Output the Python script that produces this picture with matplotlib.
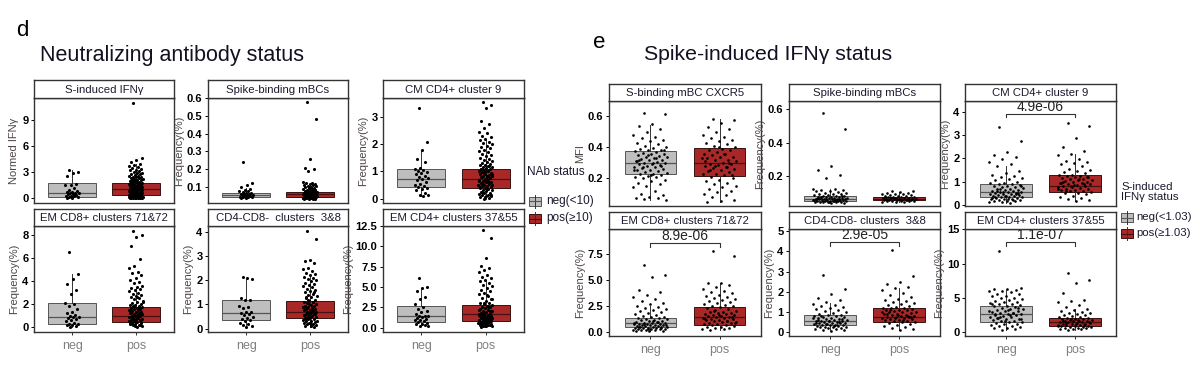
import numpy as np
import matplotlib
matplotlib.use("Agg")
import matplotlib.pyplot as plt
from matplotlib.patches import Rectangle
from matplotlib.lines import Line2D

plt.rcParams['font.family'] = ['Liberation Sans', 'DejaVu Sans']

# ---------------- data ----------------
groups = ["neg", "pos"]

# Panel d : Neutralizing antibody status
d_titles = ["S-induced IFNγ", "Spike-binding mBCs", "CM CD4+ cluster 9",
            "EM CD8+ clusters 71&72", "CD4-CD8-  clusters  3&8", "EM CD4+ clusters 37&55"]
d_ylabels = ["Normed IFNγ", "Frequency(%)", "Frequency(%)",
             "Frequency(%)", "Frequency(%)", "Frequency(%)"]
d_yticks = [[0, 3, 6, 9], [0.1, 0.2, 0.3, 0.4, 0.5, 0.6], [0, 1, 2, 3],
            [0, 2, 4, 6, 8], [0, 1, 2, 3, 4], [0.0, 2.5, 5.0, 7.5, 10.0, 12.5]]
d_ylims = [(-0.55, 11.55), (0.01, 0.6), (-0.16, 3.7),
           (-0.42, 8.77), (-0.14, 4.24), (-0.53, 12.52)]
# box stats: (whisker low, q1, median, q3, whisker high)
d_box_neg = [(0.02, 0.15, 0.6, 1.7, 3.2), (0.038, 0.042, 0.055, 0.0646, 0.095),
             (0.1, 0.43, 0.73, 1.08, 1.79), (0.05, 0.29, 0.92, 2.08, 4.6),
             (0.05, 0.37, 0.65, 1.19, 2.1), (0.15, 0.74, 1.44, 2.71, 4.85)]
d_box_pos = [(0.0, 0.35, 1.04, 1.8, 3.9), (0.032, 0.045, 0.058, 0.07, 0.105),
             (0.0, 0.39, 0.72, 1.1, 2.15), (0.05, 0.49, 0.98, 1.73, 3.5),
             (0.08, 0.43, 0.7, 1.15, 2.2), (0.1, 0.86, 1.69, 2.8, 5.7)]

ifng_neg = [3.2, 3.05, 2.95, 2.6, 1.65, 1.55, 1.5, 1.2, 0.9, 0.85, 0.75, 0.7, 0.65, 0.6, 0.55,
            0.5, 0.45, 0.4, 0.3, 0.25, 0.2, 0.15, 0.1, 0.05, 0.02]
ifng_pos = [11.0, 4.6, 4.45, 4.2, 4.0, 3.85, 3.7, 3.6, 3.5, 3.4, 3.3, 3.2, 3.1, 3.0, 2.95, 2.9,
            2.8, 2.75, 2.7, 2.6, 2.55, 2.5, 2.45, 2.4, 2.35, 2.3, 2.25, 2.2, 2.15, 2.1, 2.05, 2.0,
            1.95, 1.9, 1.85, 1.8, 1.78, 1.75, 1.7, 1.65, 1.6, 1.55, 1.5, 1.48, 1.45, 1.4, 1.35,
            1.3, 1.28, 1.25, 1.2, 1.15, 1.1, 1.08, 1.05, 1.02, 1.0, 0.98, 0.95, 0.9, 0.88, 0.85,
            0.8, 0.78, 0.75, 0.7, 0.68, 0.65, 0.6, 0.58, 0.55, 0.5, 0.48, 0.45, 0.4, 0.38, 0.35,
            0.3, 0.28, 0.25, 0.2, 0.18, 0.15, 0.12, 0.1, 0.08, 0.05, 0.03, 0.02, 0.0, 0.0, 0.01,
            0.04, 0.06, 0.1, 0.15, 0.2, 0.25, 0.3, 0.35]
mbc_d_neg = [0.24, 0.12, 0.11, 0.10, 0.09, 0.085, 0.08, 0.075, 0.07, 0.068, 0.065, 0.062, 0.06,
             0.058, 0.056, 0.055, 0.053, 0.05, 0.048, 0.046, 0.045, 0.043, 0.042, 0.04, 0.038]
mbc_d_pos = [0.58, 0.48, 0.26, 0.205, 0.2, 0.19, 0.13, 0.125, 0.12, 0.118, 0.115, 0.112, 0.11,
             0.108, 0.105, 0.1, 0.098, 0.095, 0.092, 0.09, 0.088, 0.085, 0.083, 0.08, 0.078,
             0.076, 0.075, 0.073, 0.072, 0.07, 0.069, 0.068, 0.067, 0.066, 0.065, 0.064, 0.063,
             0.062, 0.061, 0.06, 0.059, 0.058, 0.057, 0.056, 0.055, 0.054, 0.053, 0.052, 0.051,
             0.05, 0.049, 0.048, 0.047, 0.046, 0.045, 0.044, 0.043, 0.042, 0.041, 0.04, 0.039,
             0.038, 0.037, 0.036, 0.035, 0.034, 0.033, 0.032, 0.07, 0.065, 0.06, 0.055, 0.05,
             0.045, 0.04, 0.075, 0.08, 0.085, 0.09, 0.062, 0.058, 0.052, 0.048]
cm9_d_neg = [3.35, 2.1, 1.78, 1.45, 1.35, 1.12, 1.08, 1.05, 1.02, 0.98, 0.95, 0.9, 0.85, 0.8,
             0.75, 0.73, 0.7, 0.62, 0.55, 0.5, 0.45, 0.42, 0.38, 0.35, 0.3, 0.22, 0.15, 0.12, 0.1]
cm9_d_pos = [3.55, 3.45, 3.35, 2.85, 2.75, 2.6, 2.45, 2.4, 2.3, 2.25, 2.2, 2.15, 2.1, 2.05, 2.0,
             1.95, 1.9, 1.85, 1.8, 1.75, 1.7, 1.65, 1.6, 1.55, 1.5, 1.45, 1.42, 1.4, 1.35, 1.3,
             1.28, 1.25, 1.22, 1.2, 1.18, 1.15, 1.12, 1.1, 1.08, 1.05, 1.02, 1.0, 0.98, 0.95,
             0.92, 0.9, 0.88, 0.85, 0.82, 0.8, 0.78, 0.75, 0.72, 0.7, 0.68, 0.65, 0.62, 0.6, 0.58,
             0.55, 0.52, 0.5, 0.48, 0.45, 0.42, 0.4, 0.38, 0.35, 0.32, 0.3, 0.28, 0.25, 0.22, 0.2,
             0.18, 0.15, 0.12, 0.1, 0.08, 0.05, 0.03, 0.0, 0.9, 0.85, 0.8, 0.75, 0.7, 0.65, 0.6,
             0.55, 0.5, 1.0, 1.1, 1.2, 0.95, 0.45, 0.35, 0.25, 0.15, 0.05]
cd8_d_neg = [6.5, 4.6, 4.2, 3.7, 3.2, 2.9, 2.1, 2.05, 1.8, 1.55, 1.3, 1.2, 1.05, 0.95, 0.9, 0.85,
             0.8, 0.7, 0.6, 0.5, 0.4, 0.3, 0.25, 0.2, 0.15, 0.1, 0.05]
cd8_d_pos = [8.3, 8.0, 7.8, 7.0, 5.95, 5.3, 5.1, 4.8, 4.7, 4.5, 4.3, 4.1, 3.9, 3.8, 3.6, 3.5,
             3.4, 3.3, 3.2, 3.1, 3.0, 2.9, 2.8, 2.7, 2.6, 2.5, 2.4, 2.3, 2.2, 2.1, 2.0, 1.95, 1.9,
             1.85, 1.8, 1.75, 1.7, 1.65, 1.6, 1.55, 1.5, 1.45, 1.4, 1.35, 1.3, 1.25, 1.2, 1.15,
             1.1, 1.05, 1.0, 0.98, 0.95, 0.9, 0.85, 0.8, 0.75, 0.7, 0.65, 0.6, 0.55, 0.5, 0.45,
             0.4, 0.35, 0.3, 0.25, 0.2, 0.15, 0.1, 0.05, 1.2, 1.1, 1.0, 0.9, 0.8, 0.7, 0.6, 0.5,
             1.4, 1.6, 1.8, 2.2, 2.6, 0.3, 0.2, 0.1, 0.4]
dn_d_neg = [2.15, 2.05, 2.1, 1.25, 1.2, 1.18, 0.95, 0.9, 0.85, 0.7, 0.68, 0.65, 0.62, 0.58, 0.5,
            0.45, 0.4, 0.35, 0.3, 0.25, 0.2, 0.15, 0.1, 0.05]
dn_d_pos = [4.05, 3.72, 2.85, 2.8, 2.7, 2.5, 2.45, 2.4, 2.3, 2.25, 2.2, 2.15, 2.1, 2.05, 2.0,
            1.95, 1.9, 1.85, 1.8, 1.75, 1.7, 1.65, 1.6, 1.55, 1.5, 1.45, 1.4, 1.35, 1.3, 1.25,
            1.2, 1.15, 1.12, 1.1, 1.05, 1.0, 0.98, 0.95, 0.92, 0.9, 0.88, 0.85, 0.82, 0.8, 0.78,
            0.75, 0.72, 0.7, 0.68, 0.65, 0.62, 0.6, 0.58, 0.55, 0.52, 0.5, 0.48, 0.45, 0.42, 0.4,
            0.38, 0.35, 0.32, 0.3, 0.28, 0.25, 0.22, 0.2, 0.18, 0.15, 0.12, 0.1, 0.08, 1.0, 0.9,
            0.8, 0.7, 0.6, 0.5, 0.4, 1.1, 1.2, 0.3, 0.2, 1.3, 1.5, 0.65, 0.55, 0.75, 0.85]
cd4_d_neg = [6.1, 5.0, 4.85, 4.5, 3.8, 3.5, 2.9, 2.6, 2.3, 2.1, 1.9, 1.7, 1.5, 1.45, 1.4, 1.3,
             1.2, 1.1, 1.0, 0.9, 0.8, 0.7, 0.6, 0.5, 0.4, 0.3, 0.2, 0.15]
cd4_d_pos = [12.0, 11.0, 8.6, 7.6, 7.3, 7.1, 6.8, 6.5, 6.3, 6.1, 5.9, 5.7, 5.5, 5.3, 5.1, 4.9,
             4.7, 4.5, 4.3, 4.1, 3.9, 3.7, 3.5, 3.3, 3.1, 3.0, 2.9, 2.8, 2.7, 2.6, 2.5, 2.4, 2.3,
             2.2, 2.1, 2.0, 1.9, 1.8, 1.75, 1.7, 1.65, 1.6, 1.55, 1.5, 1.45, 1.4, 1.35, 1.3, 1.25,
             1.2, 1.15, 1.1, 1.05, 1.0, 0.95, 0.9, 0.85, 0.8, 0.75, 0.7, 0.65, 0.6, 0.55, 0.5,
             0.45, 0.4, 0.35, 0.3, 0.25, 0.2, 0.15, 0.1, 2.0, 1.8, 1.6, 1.4, 1.2, 1.0, 0.8, 0.6,
             2.5, 3.0, 3.5, 4.0, 0.4, 0.3, 0.2, 2.2, 2.6, 1.3]

# Panel e : Spike-induced IFNγ status
e_titles = ["S-binding mBC CXCR5", "Spike-binding mBCs", "CM CD4+ cluster 9",
            "EM CD8+ clusters 71&72", "CD4-CD8- clusters  3&8", "EM CD4+ clusters 37&55"]
e_ylabels = ["MFI", "Frequency(%)", "Frequency(%)",
             "Frequency(%)", "Frequency(%)", "Frequency(%)"]
e_yticks = [[0.2, 0.4, 0.6], [0.2, 0.4, 0.6], [0, 1, 2, 3, 4],
            [0.0, 2.5, 5.0, 7.5], [0, 1, 2, 3, 4, 5], [0, 5, 10, 15]]
e_ylims = [(0.02, 0.70), (0.02, 0.65), (-0.05, 4.46),
           (-0.42, 9.95), (-0.18, 5.1), (-0.63, 15.06)]
e_box_neg = [(0.06, 0.228, 0.301, 0.379, 0.546), (0.04, 0.052, 0.065, 0.08, 0.12),
             (0.1, 0.33, 0.54, 0.90, 1.67), (0.05, 0.43, 0.81, 1.30, 2.49),
             (0.05, 0.36, 0.56, 0.85, 1.43), (0.3, 1.47, 2.55, 3.81, 6.1)]
e_box_pos = [(0.045, 0.217, 0.297, 0.395, 0.585), (0.042, 0.056, 0.065, 0.076, 0.105),
             (0.18, 0.57, 0.83, 1.29, 2.2), (0.2, 0.65, 1.40, 2.42, 4.75),
             (0.1, 0.52, 0.77, 1.21, 2.17), (0.3, 0.84, 1.38, 1.96, 3.4)]
e_pvalues = [None, None, "4.9e-06", "8.9e-06", "2.9e-05", "1.1e-07"]
e_pvalue_y = [None, None, 3.89, 8.56, 4.44, 13.1]

cxcr5_e_neg = [0.62, 0.615, 0.55, 0.54, 0.52, 0.5, 0.48, 0.47, 0.46, 0.45, 0.44, 0.43, 0.42,
               0.41, 0.4, 0.395, 0.39, 0.385, 0.38, 0.375, 0.37, 0.365, 0.36, 0.355, 0.35, 0.345,
               0.34, 0.335, 0.33, 0.325, 0.32, 0.315, 0.31, 0.305, 0.3, 0.298, 0.295, 0.29, 0.285,
               0.28, 0.275, 0.27, 0.265, 0.26, 0.255, 0.25, 0.245, 0.24, 0.235, 0.23, 0.225, 0.22,
               0.215, 0.21, 0.205, 0.2, 0.19, 0.18, 0.17, 0.16, 0.15, 0.14, 0.12, 0.1, 0.09, 0.08,
               0.075, 0.07, 0.065, 0.06, 0.3, 0.32, 0.28, 0.35, 0.25, 0.33, 0.27, 0.38, 0.22, 0.31]
cxcr5_e_pos = [0.585, 0.58, 0.56, 0.53, 0.52, 0.5, 0.48, 0.47, 0.46, 0.45, 0.44, 0.43, 0.42,
               0.41, 0.4, 0.39, 0.385, 0.38, 0.37, 0.36, 0.355, 0.35, 0.34, 0.335, 0.33, 0.32,
               0.315, 0.31, 0.3, 0.295, 0.29, 0.285, 0.28, 0.27, 0.265, 0.26, 0.25, 0.245, 0.24,
               0.23, 0.225, 0.22, 0.21, 0.2, 0.19, 0.18, 0.17, 0.16, 0.15, 0.14, 0.13, 0.12, 0.11,
               0.1, 0.09, 0.08, 0.06, 0.05, 0.045, 0.3, 0.28, 0.33, 0.36, 0.25, 0.22, 0.4, 0.31, 0.27]
mbc_e_neg = [0.58, 0.48, 0.26, 0.235, 0.205, 0.19, 0.125, 0.12, 0.118, 0.115, 0.11, 0.108, 0.105,
             0.1, 0.098, 0.095, 0.092, 0.09, 0.088, 0.085, 0.082, 0.08, 0.078, 0.076, 0.075,
             0.073, 0.072, 0.07, 0.069, 0.068, 0.067, 0.066, 0.065, 0.064, 0.063, 0.062, 0.061,
             0.06, 0.059, 0.058, 0.057, 0.056, 0.055, 0.054, 0.053, 0.052, 0.051, 0.05, 0.049,
             0.048, 0.047, 0.046, 0.045, 0.044, 0.043, 0.042, 0.041, 0.04, 0.07, 0.065, 0.06,
             0.055, 0.05, 0.075, 0.08, 0.045, 0.062, 0.058]
mbc_e_pos = [0.112, 0.108, 0.105, 0.1, 0.098, 0.095, 0.092, 0.09, 0.088, 0.085, 0.082, 0.08,
             0.078, 0.076, 0.075, 0.073, 0.072, 0.07, 0.069, 0.068, 0.067, 0.066, 0.065, 0.064,
             0.063, 0.062, 0.061, 0.06, 0.059, 0.058, 0.057, 0.056, 0.055, 0.054, 0.053, 0.052,
             0.051, 0.05, 0.048, 0.046, 0.044, 0.042, 0.07, 0.065, 0.06, 0.075, 0.055, 0.068]
cm9_e_neg = [3.35, 2.75, 2.28, 2.15, 2.05, 1.95, 1.82, 1.75, 1.65, 1.45, 1.38, 1.3, 1.25, 1.2,
             1.15, 1.1, 1.05, 1.0, 0.95, 0.92, 0.9, 0.88, 0.85, 0.82, 0.8, 0.78, 0.75, 0.72, 0.7,
             0.68, 0.65, 0.62, 0.6, 0.58, 0.56, 0.55, 0.54, 0.52, 0.5, 0.48, 0.46, 0.45, 0.44,
             0.42, 0.4, 0.38, 0.36, 0.35, 0.34, 0.32, 0.3, 0.28, 0.26, 0.25, 0.24, 0.22, 0.2,
             0.18, 0.16, 0.15, 0.14, 0.12, 0.1, 0.6, 0.5, 0.4, 0.3, 0.2, 0.7, 0.8, 0.25, 0.35,
             0.45, 0.55]
cm9_e_pos = [3.52, 3.38, 2.85, 2.48, 2.3, 2.2, 2.15, 1.95, 1.9, 1.85, 1.8, 1.75, 1.65, 1.55, 1.5,
             1.45, 1.4, 1.35, 1.3, 1.28, 1.25, 1.22, 1.2, 1.18, 1.15, 1.12, 1.1, 1.08, 1.05, 1.02,
             1.0, 0.98, 0.95, 0.92, 0.9, 0.88, 0.85, 0.83, 0.8, 0.78, 0.75, 0.72, 0.7, 0.68, 0.65,
             0.62, 0.6, 0.58, 0.55, 0.52, 0.5, 0.45, 0.4, 0.35, 0.3, 0.25, 0.2, 0.18, 1.0, 0.9,
             0.8, 0.7, 1.1, 0.6, 1.2, 0.85, 0.95]
cd8_e_neg = [6.5, 5.5, 5.3, 4.0, 3.8, 3.6, 3.4, 3.2, 3.0, 2.8, 2.65, 2.5, 2.4, 2.3, 2.2, 2.1, 2.0,
             1.9, 1.8, 1.7, 1.6, 1.5, 1.45, 1.4, 1.35, 1.3, 1.25, 1.2, 1.15, 1.1, 1.05, 1.0, 0.95,
             0.9, 0.85, 0.82, 0.8, 0.78, 0.75, 0.72, 0.7, 0.68, 0.65, 0.62, 0.6, 0.58, 0.55, 0.52,
             0.5, 0.48, 0.45, 0.42, 0.4, 0.38, 0.35, 0.32, 0.3, 0.28, 0.25, 0.22, 0.2, 0.18, 0.15,
             0.12, 0.1, 0.08, 0.05, 0.9, 0.7, 0.6, 1.0, 0.5, 0.4, 0.3, 0.8]
cd8_e_pos = [7.8, 7.35, 4.75, 4.7, 4.5, 4.3, 4.1, 3.9, 3.85, 3.7, 3.6, 3.5, 3.4, 3.3, 3.2, 3.1,
             3.0, 2.9, 2.8, 2.7, 2.6, 2.5, 2.45, 2.4, 2.3, 2.2, 2.1, 2.0, 1.95, 1.9, 1.85, 1.8,
             1.75, 1.7, 1.65, 1.6, 1.55, 1.5, 1.45, 1.4, 1.35, 1.3, 1.25, 1.2, 1.15, 1.1, 1.05,
             1.0, 0.95, 0.9, 0.85, 0.8, 0.75, 0.7, 0.65, 0.6, 0.55, 0.5, 0.45, 0.4, 0.35, 0.3,
             0.25, 0.2, 1.4, 1.6, 1.2, 1.0, 2.0, 0.8]
dn_e_neg = [2.85, 2.12, 1.9, 1.7, 1.62, 1.5, 1.42, 1.35, 1.3, 1.25, 1.2, 1.15, 1.1, 1.05, 1.0,
            0.95, 0.9, 0.88, 0.85, 0.82, 0.8, 0.78, 0.75, 0.72, 0.7, 0.68, 0.65, 0.62, 0.6, 0.58,
            0.56, 0.55, 0.54, 0.52, 0.5, 0.48, 0.46, 0.45, 0.44, 0.42, 0.4, 0.38, 0.36, 0.35,
            0.34, 0.32, 0.3, 0.28, 0.26, 0.25, 0.24, 0.22, 0.2, 0.18, 0.15, 0.12, 0.1, 0.05, 0.6,
            0.5, 0.4, 0.7, 0.3, 0.8, 0.65, 0.55, 0.45, 0.35]
dn_e_pos = [4.05, 2.8, 2.5, 2.4, 2.25, 2.17, 2.1, 1.95, 1.85, 1.75, 1.65, 1.6, 1.55, 1.5, 1.45,
            1.4, 1.35, 1.3, 1.25, 1.22, 1.2, 1.18, 1.15, 1.12, 1.1, 1.08, 1.05, 1.02, 1.0, 0.98,
            0.95, 0.92, 0.9, 0.88, 0.85, 0.82, 0.8, 0.78, 0.77, 0.75, 0.72, 0.7, 0.68, 0.65, 0.62,
            0.6, 0.58, 0.55, 0.52, 0.5, 0.45, 0.4, 0.35, 0.3, 0.25, 0.2, 0.15, 0.1, 0.9, 0.8, 0.7,
            1.0, 0.6, 1.1, 0.75, 0.85]
cd4_e_neg = [11.9, 6.4, 6.3, 6.2, 6.1, 6.0, 5.9, 5.8, 5.6, 5.5, 5.3, 5.2, 5.0, 4.9, 4.8, 4.6,
             4.5, 4.4, 4.3, 4.2, 4.1, 4.0, 3.9, 3.8, 3.7, 3.6, 3.5, 3.4, 3.3, 3.2, 3.1, 3.0, 2.9,
             2.8, 2.7, 2.6, 2.55, 2.5, 2.4, 2.3, 2.2, 2.1, 2.0, 1.9, 1.8, 1.7, 1.6, 1.5, 1.45, 1.4,
             1.3, 1.2, 1.1, 1.0, 0.9, 0.8, 0.7, 0.6, 0.5, 0.4, 0.3, 3.0, 2.5, 2.0, 3.5, 1.5, 4.0,
             2.8, 2.2, 1.8, 3.2, 2.6]
cd4_e_pos = [8.6, 7.6, 7.2, 5.7, 4.7, 4.5, 4.3, 3.9, 3.6, 3.4, 3.2, 3.0, 2.9, 2.8, 2.7, 2.6, 2.5,
             2.4, 2.3, 2.2, 2.1, 2.0, 1.95, 1.9, 1.85, 1.8, 1.75, 1.7, 1.65, 1.6, 1.55, 1.5, 1.45,
             1.4, 1.35, 1.3, 1.25, 1.2, 1.15, 1.1, 1.05, 1.0, 0.95, 0.9, 0.85, 0.8, 0.75, 0.7,
             0.65, 0.6, 0.55, 0.5, 0.45, 0.4, 0.35, 0.3, 1.4, 1.2, 1.6, 1.0, 1.8, 0.8, 1.5, 1.3]

d_points = [(ifng_neg, ifng_pos), (mbc_d_neg, mbc_d_pos), (cm9_d_neg, cm9_d_pos),
            (cd8_d_neg, cd8_d_pos), (dn_d_neg, dn_d_pos), (cd4_d_neg, cd4_d_pos)]
e_points = [(cxcr5_e_neg, cxcr5_e_pos), (mbc_e_neg, mbc_e_pos), (cm9_e_neg, cm9_e_pos),
            (cd8_e_neg, cd8_e_pos), (dn_e_neg, dn_e_pos), (cd4_e_neg, cd4_e_pos)]

# ---------------- style ----------------
W, H = 1200, 367
NEG_COL = "#bebebe"
POS_COL = "#a82828"
BORDER = "#333333"
STRIP_TXT = "#1a1a2e"
YLAB_COL = "#4d4545"

fig = plt.figure(figsize=(W / 100, H / 100), dpi=100)


def rect(l, r, t, b):
    return [l / W, 1 - b / H, (r - l) / W, (b - t) / H]


def fx(x):
    return x / W


def fy(y):
    return 1 - y / H


def fmt_ticks(ticks):
    if any(isinstance(v, float) for v in ticks) and max(ticks) > 1:
        return ["%.1f" % v for v in ticks]
    return ["%g" % v for v in ticks]


def draw_panel(l, r, strip_t, strip_b, bottom, title, ylabel, yticks, ylim,
               box_neg, box_pos, pts, jit, msize, bottom_row, pval=None, pval_y=None):
    ax = fig.add_axes(rect(l, r, strip_b, bottom))
    sax = fig.add_axes(rect(l, r, strip_t, strip_b))
    sax.set_xticks([]); sax.set_yticks([])
    for s in sax.spines.values():
        s.set_color(BORDER); s.set_linewidth(1.0)
    sax.text(0.5, 0.45, title, ha="center", va="center", fontsize=8.2,
             color=STRIP_TXT, transform=sax.transAxes)

    stats = []
    for st, lab in zip((box_neg, box_pos), groups):
        stats.append(dict(whislo=st[0], q1=st[1], med=st[2], q3=st[3], whishi=st[4],
                          label=lab))
    bp = ax.bxp(stats, positions=[1, 2], widths=0.75, patch_artist=True,
                showfliers=False, showcaps=False,
                whiskerprops=dict(color="#333333", linewidth=0.7),
                medianprops=dict(linewidth=0.9),
                boxprops=dict(linewidth=0.7))
    for patch, fc, ec in zip(bp["boxes"], (NEG_COL, POS_COL), ("#555555", "#3a1010")):
        patch.set_facecolor(fc)
        patch.set_edgecolor(ec)
    for med, mc in zip(bp["medians"], ("#555555", "#4a1010")):
        med.set_color(mc)

    for k, vals in enumerate(pts):
        vals = np.asarray(vals, dtype=float)
        n = len(vals)
        offs = ((np.arange(n) * 0.6180339887 + 0.3) % 1.0 - 0.5) * 2 * jit
        ax.scatter(k + 1 + offs, vals, s=msize, color="black", linewidths=0, zorder=5)

    if pval is not None:
        yr = ylim[1] - ylim[0]
        tk = yr * 0.03
        ax.plot([1, 1, 2, 2], [pval_y - tk, pval_y, pval_y, pval_y - tk],
                color="#333333", linewidth=0.8, zorder=6)
        ax.text(1.5, pval_y + yr * 0.003, pval, ha="center", va="bottom",
                fontsize=10, color="#222222", zorder=6)

    ax.set_xlim(0.4, 2.6)
    ax.set_ylim(*ylim)
    ax.set_yticks(yticks)
    ax.set_yticklabels(fmt_ticks(yticks))
    ax.tick_params(axis="y", labelsize=8, length=2.5, width=0.7, pad=1.5,
                   colors="black")
    for lab in ax.get_yticklabels():
        lab.set_fontweight("bold")
    if bottom_row:
        ax.set_xticks([1, 2])
        ax.set_xticklabels(groups)
        ax.tick_params(axis="x", labelsize=9, length=2.5, width=0.7, pad=3.5,
                       labelcolor="#808080", color="#333333")
    else:
        ax.set_xticks([])
    for s in ax.spines.values():
        s.set_color(BORDER); s.set_linewidth(1.0)
    ax.set_ylabel(ylabel, fontsize=8, color=YLAB_COL, labelpad=2)
    return ax


# ---- Panel d ----
d_cols = [(34, 174), (208, 348), (383, 524)]
d_rows = [(80, 98, 203), (209, 226, 332)]
for i in range(6):
    r, c = divmod(i, 3)
    l, rr = d_cols[c]
    st, sb, bt = d_rows[r]
    draw_panel(l, rr, st, sb, bt, d_titles[i], d_ylabels[i], d_yticks[i], d_ylims[i],
               d_box_neg[i], d_box_pos[i], d_points[i], 0.11, 5.0, r == 1)

# ---- Panel e ----
e_cols = [(609, 761), (789, 940), (965, 1116)]
e_rows = [(84, 101, 206), (212, 229, 336)]
for i in range(6):
    r, c = divmod(i, 3)
    l, rr = e_cols[c]
    st, sb, bt = e_rows[r]
    draw_panel(l, rr, st, sb, bt, e_titles[i], e_ylabels[i], e_yticks[i], e_ylims[i],
               e_box_neg[i], e_box_pos[i], e_points[i], 0.25, 3.6, r == 1,
               e_pvalues[i], e_pvalue_y[i])

# ---- headings ----
fig.text(fx(16), fy(30), "d", fontsize=16, va="center", ha="left", color="black")
fig.text(fx(40), fy(55), "Neutralizing antibody status", fontsize=15.5, va="center",
         ha="left", color="#111122")
fig.text(fx(593), fy(42), "e", fontsize=16, va="center", ha="left", color="black")
fig.text(fx(644), fy(55), "Spike-induced IFNγ status", fontsize=15.3, va="center",
         ha="left", color="#111122")


# ---- legends ----
def legend_key(x0, y0, w, h, fc, ec, mc):
    fig.add_artist(Line2D([fx(x0 + w / 2)] * 2, [fy(y0 - 2), fy(y0 + h + 2)],
                          color="#333333", linewidth=0.7))
    fig.add_artist(Rectangle((fx(x0), fy(y0 + h)), w / W, h / H, facecolor=fc,
                             edgecolor=ec, linewidth=0.7, transform=fig.transFigure))
    fig.add_artist(Line2D([fx(x0), fx(x0 + w)], [fy(y0 + h / 2)] * 2, color=mc,
                          linewidth=0.8))


fig.text(fx(527), fy(172), "NAb status", fontsize=8.5, va="center", ha="left",
         color="#1a1a2e")
legend_key(529, 197, 12, 9, NEG_COL, "#555555", "#555555")
legend_key(529, 214, 12, 9, POS_COL, "#3a1010", "#4a1010")
fig.text(fx(546), fy(201.5), "neg(<10)", fontsize=8.5, va="center", ha="left",
         color="#1a1a2e")
fig.text(fx(546), fy(218.5), "pos(≥10)", fontsize=8.5, va="center", ha="left",
         color="#1a1a2e")

fig.text(fx(1121), fy(187), "S-induced", fontsize=8.2, va="center", ha="left",
         color="#1a1a2e")
fig.text(fx(1121), fy(197.5), "IFNγ status", fontsize=8.2, va="center", ha="left",
         color="#1a1a2e")
legend_key(1121, 213, 12, 9, NEG_COL, "#555555", "#555555")
legend_key(1121, 229, 12, 9, POS_COL, "#3a1010", "#4a1010")
fig.text(fx(1136), fy(217), "neg(<1.03)", fontsize=8.2, va="center", ha="left",
         color="#1a1a2e")
fig.text(fx(1136), fy(233.5), "pos(≥1.03)", fontsize=8.2, va="center", ha="left",
         color="#1a1a2e")

fig.savefig("out.png", dpi=100, facecolor="white")
